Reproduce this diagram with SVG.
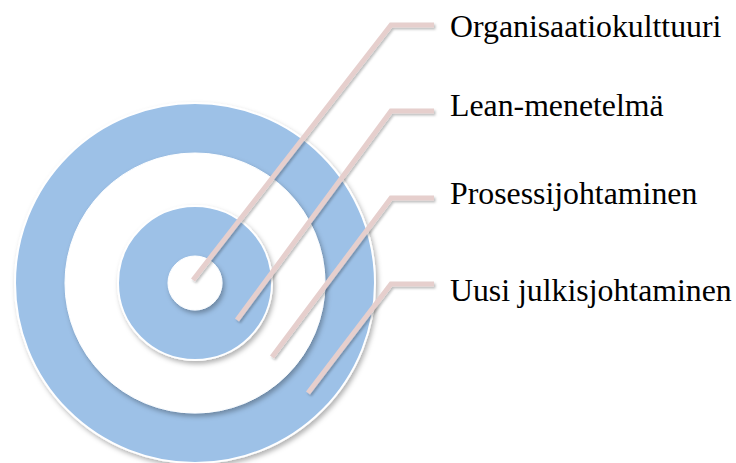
<svg xmlns="http://www.w3.org/2000/svg" width="736" height="463" viewBox="0 0 736 463">
  <defs>
    <filter id="sh" x="-20%" y="-20%" width="140%" height="140%">
      <feDropShadow dx="2" dy="3" stdDeviation="2.5" flood-color="#000" flood-opacity="0.3"/>
    </filter>
    <filter id="lsh" x="-20%" y="-20%" width="140%" height="140%">
      <feDropShadow dx="1.5" dy="2" stdDeviation="1.2" flood-color="#000" flood-opacity="0.25"/>
    </filter>
  </defs>
  <style>
    .blue { fill: #9dc1e7; stroke: #ffffff; stroke-width: 2; }
    .white { fill: #ffffff; stroke: #ffffff; stroke-width: 1; }
    .lead { fill: none; stroke: #e6cfcd; stroke-width: 5; stroke-linecap: butt; stroke-linejoin: miter; }
    .lbl { font-family: "Liberation Serif", "Times New Roman", serif; font-size: 31.8px; fill: #000000; }
  </style>
  <rect width="736" height="463" fill="#ffffff"/>
  <g id="rings">
    <circle id="ring-outer" class="blue" cx="195" cy="283" r="180" filter="url(#sh)"/>
    <circle id="ring-2" class="white" cx="195" cy="283" r="130" filter="url(#sh)"/>
    <circle id="ring-3" class="blue" cx="195" cy="283" r="77" filter="url(#sh)"/>
    <circle id="ring-core" class="white" cx="195" cy="283" r="27" filter="url(#sh)"/>
  </g>
  <g id="connectors" filter="url(#lsh)">
    <polyline class="lead" points="193,280 391,25 434,25"/>
    <polyline class="lead" points="237,320 391,111 434,111"/>
    <polyline class="lead" points="272,357 391,198 434,198"/>
    <polyline class="lead" points="308,393 391,284 434,284"/>
  </g>
  <g id="label-organisaatiokulttuuri"><text class="lbl" x="450" y="37">Organisaatiokulttuuri</text></g>
  <g id="label-lean"><text class="lbl" x="450" y="116">Lean-menetelmä</text></g>
  <g id="label-prosessi"><text class="lbl" x="450" y="204">Prosessijohtaminen</text></g>
  <g id="label-uusi"><text class="lbl" x="450" y="301">Uusi julkisjohtaminen</text></g>
</svg>
